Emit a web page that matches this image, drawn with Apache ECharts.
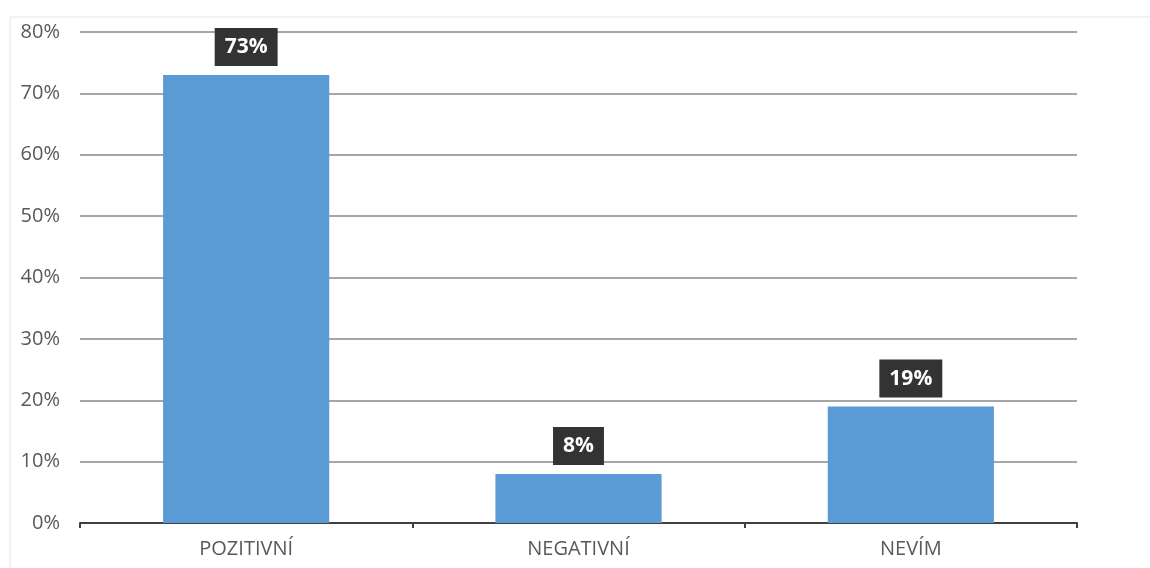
<!DOCTYPE html>
<html><head><meta charset="utf-8">
<script src="https://cdn.jsdelivr.net/npm/echarts@6/dist/echarts.min.js"></script>
<style>html,body{margin:0;padding:0;background:#fff}#c{width:1150px;height:568px}</style>
</head><body><div id="c"></div>
<script>
const categories = ['POZITIVNÍ', 'NEGATIVNÍ', 'NEVÍM'];
const values = [73, 8, 19];
const yTicks = [0, 10, 20, 30, 40, 50, 60, 70, 80];

const chart = echarts.init(document.getElementById('c'), null, {renderer: 'canvas'});
chart.setOption({
  backgroundColor: '#ffffff',
  animation: false,
  graphic: [
    {type: 'line', shape: {x1: 10, y1: 17, x2: 1150, y2: 17}, style: {stroke: '#e6e6e6', lineWidth: 1}},
    {type: 'line', shape: {x1: 10, y1: 17, x2: 10, y2: 568}, style: {stroke: '#e6e6e6', lineWidth: 1}}
  ],
  grid: {left: 80, right: 73, top: 32, bottom: 45, containLabel: false},
  xAxis: {
    type: 'category',
    data: categories,
    axisLine: {lineStyle: {color: '#404040', width: 2}},
    axisTick: {show: true, alignWithLabel: false, length: 5, lineStyle: {color: '#404040', width: 2}},
    axisLabel: {color: '#595959', fontSize: 20, fontFamily: 'Open Sans', margin: 16}
  },
  yAxis: {
    type: 'value',
    min: 0, max: 80, interval: 10,
    axisLine: {show: false},
    axisTick: {show: false},
    splitLine: {lineStyle: {color: '#a6a6a6', width: 2}},
    axisLabel: {color: '#595959', fontSize: 20, fontFamily: 'Open Sans', margin: 20,
      formatter: v => yTicks.includes(v) ? v + '%' : ''}
  },
  series: [{
    type: 'bar',
    data: values,
    barWidth: '50%',
    itemStyle: {color: '#5b9bd5'},
    label: {
      show: true, position: 'top', distance: 9,
      formatter: p => p.value + '%',
      color: '#ffffff', fontWeight: 'bold', fontSize: 21, fontFamily: 'Open Sans',
      backgroundColor: '#333333', padding: [9, 10, 8, 10]
    }
  }]
});
</script></body></html>
